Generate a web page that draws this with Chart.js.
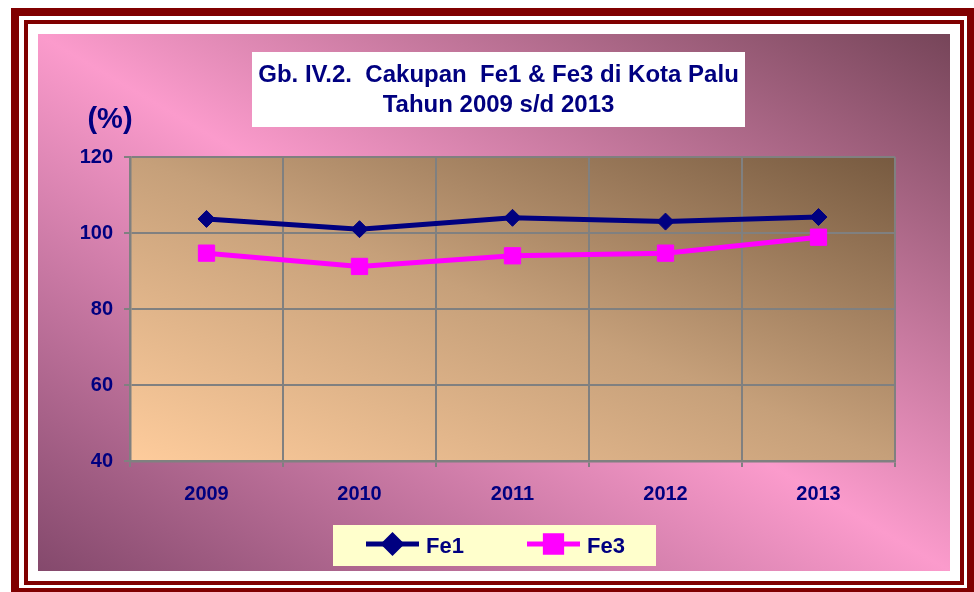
<!DOCTYPE html>
<html lang="id">
<head>
<meta charset="utf-8">
<title>Cakupan Fe1 & Fe3 di Kota Palu</title>
<script src="https://cdn.jsdelivr.net/npm/chart.js@4"></script>
<style>
    html, body { margin: 0; padding: 0; background: #ffffff; }
    #grafik { display: block; }
</style>
</head>
<body>
<canvas id="grafik" width="974" height="592"></canvas>
<script>
const tahun = ['2009', '2010', '2011', '2012', '2013'];
const nilaiFe1 = [103.7, 101.0, 104.0, 103.0, 104.2];
const nilaiFe3 = [94.7, 91.2, 94.0, 94.7, 98.9];
const tickY = [40, 60, 80, 100, 120];
const judul = ['Gb. IV.2.  Cakupan  Fe1 & Fe3 di Kota Palu', 'Tahun 2009 s/d 2013'];
const satuan = '(%)';

const FONT = '"Liberation Sans", Arial, sans-serif';
const NAVY = '#000080';
const MAGENTA = '#ff00ff';

// gradien diagonal yang dinormalisasi ke kotak (seperti isian Excel)
function isiGradien(ctx, x, y, w, h, dariKananAtas, stops) {
    ctx.save();
    ctx.translate(x, y);
    ctx.scale(w, h);
    const g = dariKananAtas ? ctx.createLinearGradient(1, 0, 0, 1) : ctx.createLinearGradient(0, 1, 1, 0);
    stops.forEach(s => g.addColorStop(s[0], s[1]));
    ctx.fillStyle = g;
    ctx.fillRect(0, 0, 1, 1);
    ctx.restore();
}

const pluginLatar = {
    id: 'latar',
    beforeDraw(chart) {
        const ctx = chart.ctx;
        const area = chart.chartArea;

        ctx.save();
        ctx.fillStyle = '#ffffff';
        ctx.fillRect(0, 0, chart.width, chart.height);

        // bingkai merah ganda
        ctx.fillStyle = '#800000';
        ctx.fillRect(11, 8, 964, 8);
        ctx.fillRect(11, 8, 8, 588);
        ctx.fillRect(967, 8, 8, 588);
        ctx.fillRect(11, 588, 964, 8);
        ctx.fillRect(24, 20, 940, 4);
        ctx.fillRect(24, 20, 4, 565);
        ctx.fillRect(960, 20, 4, 565);
        ctx.fillRect(24, 581, 940, 4);

        // panel merah muda
        isiGradien(ctx, 38, 34, 912, 537, true, [
            [0, '#764559'], [0.5, '#fb9bcc'], [1, '#84496c']
        ]);

        // kotak judul
        ctx.fillStyle = '#ffffff';
        ctx.fillRect(252, 52, 493, 75);
        ctx.fillStyle = NAVY;
        ctx.font = 'bold 24px ' + FONT;
        ctx.textAlign = 'center';
        ctx.textBaseline = 'alphabetic';
        ctx.fillText(judul[0], 498.5, 82);
        ctx.fillText(judul[1], 498.5, 112);

        ctx.font = 'bold 29px ' + FONT;
        ctx.fillText(satuan, 110, 128);

        // area plot
        isiGradien(ctx, area.left, area.top, area.right - area.left, area.bottom - area.top, false, [
            [0, '#fecc9c'], [0.5, '#c6a07a'], [1, '#775a40']
        ]);
        ctx.restore();
    },
    afterDraw(chart) {
        const ctx = chart.ctx;
        ctx.save();
        ctx.fillStyle = '#ffffcc';
        ctx.fillRect(333, 525, 323, 41);

        const posisi = [366, 527];
        chart.data.datasets.forEach((ds, i) => {
            const x0 = posisi[i];
            const y = 544;
            ctx.strokeStyle = ds.borderColor;
            ctx.lineWidth = 5;
            ctx.beginPath();
            ctx.moveTo(x0, y);
            ctx.lineTo(x0 + 53, y);
            ctx.stroke();
            Chart.helpers.drawPoint(ctx, {
                pointStyle: ds.pointStyle,
                radius: ds.pointRadius,
                borderWidth: 1
            }, x0 + 26.5, y);
            ctx.fillStyle = ds.borderColor;
            ctx.fill();

            ctx.fillStyle = NAVY;
            ctx.font = 'bold 22px ' + FONT;
            ctx.textAlign = 'left';
            ctx.textBaseline = 'alphabetic';
            ctx.fillText(ds.label, x0 + 60, 553);
        });
        ctx.restore();
    }
};

new Chart(document.getElementById('grafik').getContext('2d'), {
    type: 'line',
    data: {
        labels: tahun,
        datasets: [{
            label: 'Fe1',
            data: nilaiFe1,
            borderColor: NAVY,
            backgroundColor: NAVY,
            borderWidth: 5,
            pointStyle: 'rectRot',
            pointRadius: 8.5,
            pointBorderWidth: 1,
            pointBorderColor: NAVY,
            pointBackgroundColor: NAVY,
            tension: 0
        }, {
            label: 'Fe3',
            data: nilaiFe3,
            borderColor: MAGENTA,
            backgroundColor: MAGENTA,
            borderWidth: 5,
            pointStyle: 'rect',
            pointRadius: 11.5,
            pointBorderWidth: 1,
            pointBorderColor: MAGENTA,
            pointBackgroundColor: MAGENTA,
            tension: 0
        }]
    },
    options: {
        responsive: false,
        animation: false,
        layout: { padding: { left: 40, right: 79, top: 157, bottom: 71 } },
        plugins: {
            legend: { display: false },
            title: { display: false },
            tooltip: { enabled: false }
        },
        scales: {
            x: {
                offset: true,
                grid: { offset: true, color: '#808080', lineWidth: 2, tickLength: 6 },
                border: { color: '#808080', width: 2.5 },
                ticks: {
                    color: NAVY,
                    padding: 15,
                    font: { family: FONT, size: 20, weight: 'bold' }
                },
                afterFit(scale) { scale.height = 60; }
            },
            y: {
                min: tickY[0],
                max: tickY[tickY.length - 1],
                grid: { color: '#808080', lineWidth: 2, tickLength: 6 },
                border: { color: '#808080', width: 2.5 },
                ticks: {
                    stepSize: tickY[1] - tickY[0],
                    color: NAVY,
                    padding: 11,
                    font: { family: FONT, size: 20, weight: 'bold' }
                },
                afterFit(scale) { scale.width = 90; }
            }
        }
    },
    plugins: [pluginLatar]
});
</script>
</body>
</html>
